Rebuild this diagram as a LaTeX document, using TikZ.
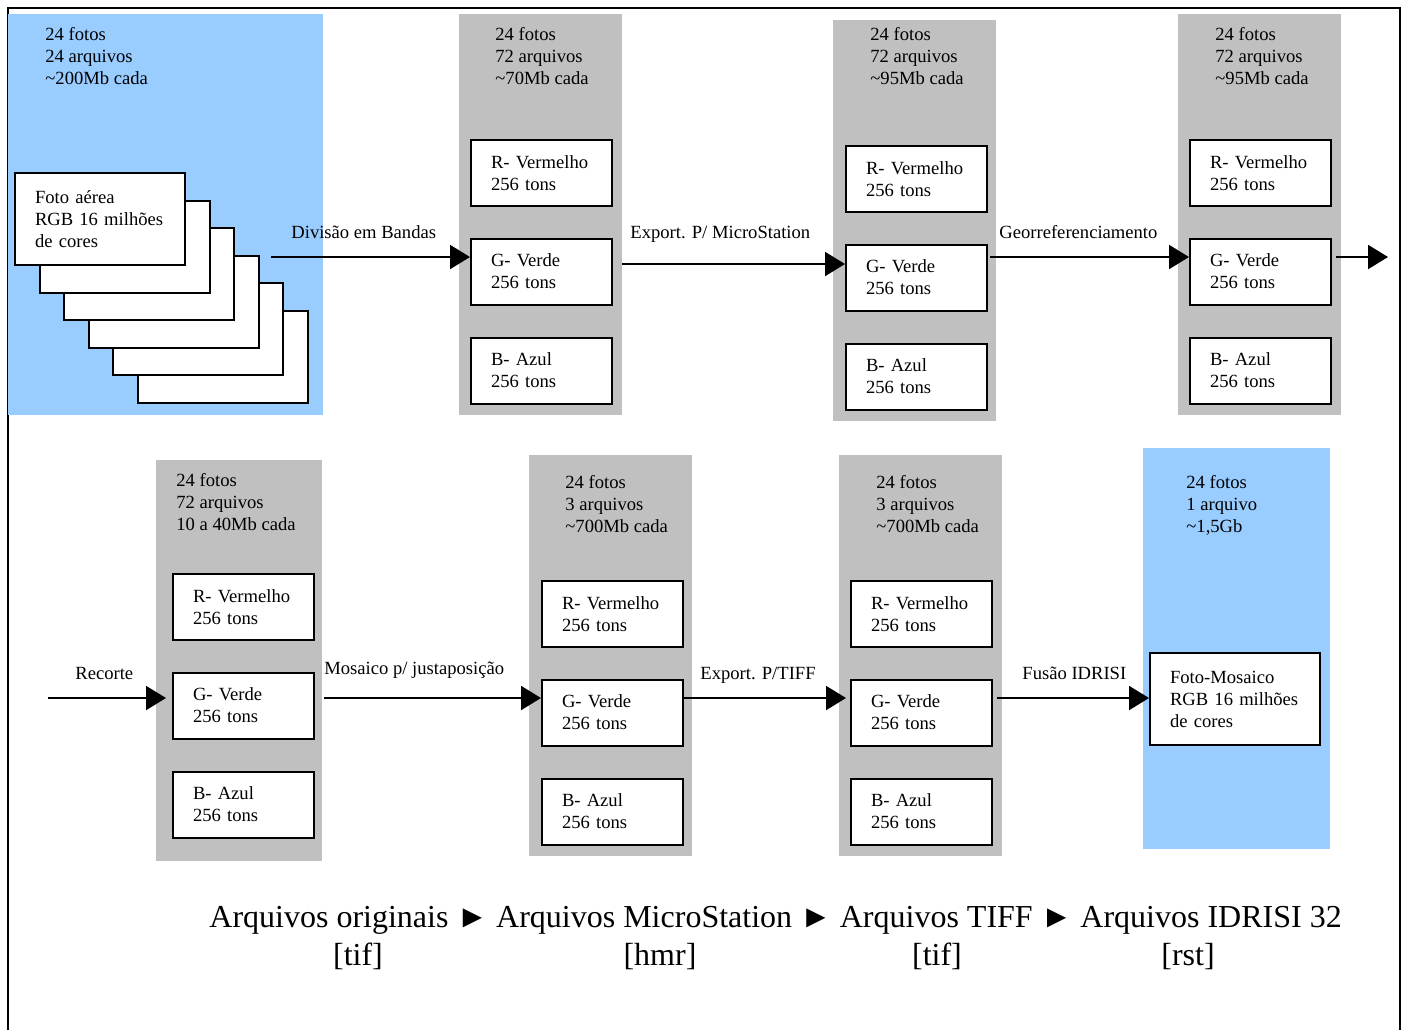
\documentclass[tikz,border=0pt]{standalone}
\usepackage{fontspec}
\setmainfont{Liberation Serif}
\usepackage{tikz}
\usetikzlibrary{arrows.meta}
\definecolor{azulclaro}{HTML}{99CCFF}
\definecolor{cinza}{HTML}{C0C0C0}
\newcommand{\pequena}{\fontsize{9.3}{11}\selectfont}
\newcommand{\grande}{\fontsize{16}{19}\selectfont}
\tikzset{
    painel/.style={fill=#1, inner sep=0pt, anchor=north west, minimum height=200.5pt},
    banda/.style={draw, fill=white, line width=1pt, anchor=north west, minimum width=70.5pt, minimum height=33pt, text width=50.5pt, inner xsep=10pt, align=left, font=\pequena},
    foto/.style={banda, minimum width=85pt, minimum height=46pt, text width=65pt},
    info/.style={anchor=north west, align=left, inner sep=0pt, font=\pequena},
    rotulo/.style={anchor=base west, inner sep=0pt, font=\pequena},
    seta/.style={line width=1pt, -{Triangle[length=10pt,width=12pt]}}
}

\begin{document}
\begin{tikzpicture}[x=0.5pt, y=-0.5pt]
            \useasboundingbox (0,0) rectangle (1406,1030);
            \draw[line width=1pt] (8,1030) -- (8,8) -- (1400,8) -- (1400,1030);

            \node[painel=azulclaro, minimum width=157.5pt] (painel1) at (8,14) {};
            \node[painel=cinza, minimum width=81.5pt] (painel2) at (459,14) {};
            \node[painel=cinza, minimum width=81.5pt] (painel3) at (833,20) {};
            \node[painel=cinza, minimum width=81.5pt] (painel4) at (1178,14) {};
            \node[painel=cinza, minimum width=83pt] (painel5) at (156,460) {};
            \node[painel=cinza, minimum width=81.5pt] (painel6) at (529,455) {};
            \node[painel=cinza, minimum width=81.5pt] (painel7) at (839,455) {};
            \node[painel=azulclaro, minimum width=93.5pt] (painel8) at (1143,448) {};

            \node[info] (info1) at (45,27) {24 fotos\\24 arquivos\\\textasciitilde200Mb cada};
            \node[info] (info2) at (495,27) {24 fotos\\72 arquivos\\\textasciitilde70Mb cada};
            \node[info] (info3) at (870,27) {24 fotos\\72 arquivos\\\textasciitilde95Mb cada};
            \node[info] (info4) at (1215,27) {24 fotos\\72 arquivos\\\textasciitilde95Mb cada};
            \node[info] (info5) at (176,473) {24 fotos\\72 arquivos\\10 a 40Mb cada};
            \node[info] (info6) at (565,475) {24 fotos\\3 arquivos\\\textasciitilde700Mb cada};
            \node[info] (info7) at (876,475) {24 fotos\\3 arquivos\\\textasciitilde700Mb cada};
            \node[info] (info8) at (1186,475) {24 fotos\\1 arquivo\\\textasciitilde1,5Gb};

            \foreach \i in {5,4,...,1}
                \node[foto] (foto\i) at ({14+24.6*\i},{172+27.6*\i}) {};
            \node[foto] (foto0) at (14,172) {Foto aérea\\RGB 16 milhões\\de cores};

            \foreach \n/\x/\y in {2/470/139, 3/845/145, 4/1189/139, 5/172/573, 6/541/580, 7/850/580} {
                \node[banda] (r\n) at (\x,\y) {R- Vermelho\\256 tons};
                \node[banda] (g\n) at (\x,\y+98.5) {G- Verde\\256 tons};
                \node[banda] (b\n) at (\x,\y+197.5) {B- Azul\\256 tons};
            }
            \node[foto] (mosaico) at (1149,652) {Foto-Mosaico\\RGB 16 milhões\\de cores};

            \coordinate (s1) at (271,257);
            \coordinate (s2) at (622,264);
            \coordinate (s3) at (990,257);
            \coordinate (s4) at (1336,257);
            \coordinate (e4) at (1388,257);
            \coordinate (s5) at (48,698);
            \coordinate (s6) at (324,698);
            \coordinate (s7) at (682,698);
            \coordinate (s8) at (997,698);

            \draw[seta] (s1) -- (s1 -| g2.west);
            \draw[seta] (s2) -- (s2 -| g3.west);
            \draw[seta] (s3) -- (s3 -| g4.west);
            \draw[seta] (s4) -- (e4);
            \draw[seta, shorten >=3pt] (s5) -- (s5 -| g5.west);
            \draw[seta] (s6) -- (s6 -| g6.west);
            \draw[seta, shorten >=2pt] (s7) -- (s7 -| g7.west);
            \draw[seta] (s8) -- (s8 -| mosaico.west);

            \node[rotulo] (l1) at (291,238) {Divisão em Bandas};
            \node[rotulo] (l2) at (630,238) {Export. P/ MicroStation};
            \node[rotulo] (l3) at (999,238) {Georreferenciamento};
            \node[rotulo] (l5) at (75,679) {Recorte};
            \node[rotulo] (l6) at (324,674) {Mosaico p/ justaposição};
            \node[rotulo] (l7) at (700,679) {Export. P/TIFF};
            \node[rotulo] (l8) at (1022,679) {Fusão IDRISI};

            \node[anchor=base west, inner sep=0pt, font=\grande] (legenda) at (209,927) {Arquivos originais ► Arquivos MicroStation ► Arquivos TIFF ► Arquivos IDRISI 32};
            \node[anchor=base, inner sep=0pt, font=\grande] (ext1) at (358,965) {[tif]};
            \node[anchor=base, inner sep=0pt, font=\grande] (ext2) at (660,965) {[hmr]};
            \node[anchor=base, inner sep=0pt, font=\grande] (ext3) at (937,965) {[tif]};
            \node[anchor=base, inner sep=0pt, font=\grande] (ext4) at (1188,965) {[rst]};
\end{tikzpicture}
\end{document}
